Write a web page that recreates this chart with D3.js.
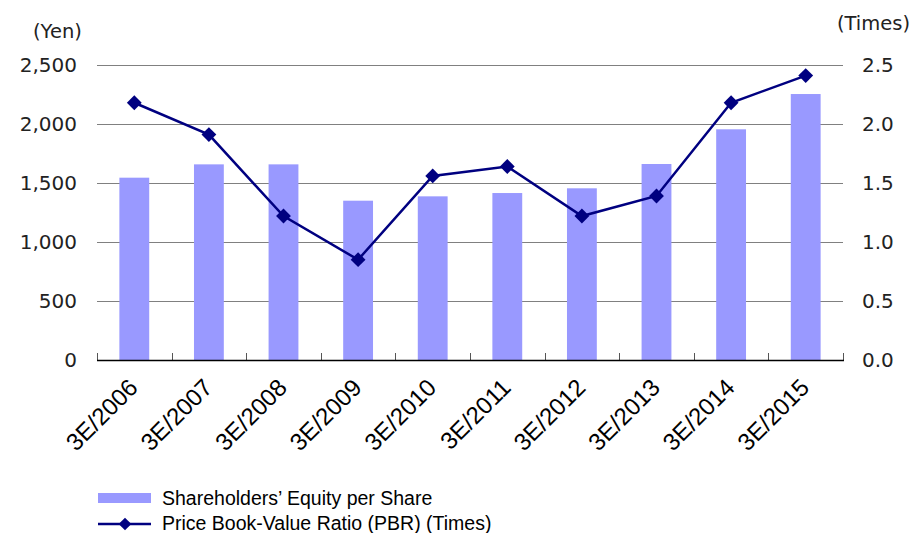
<!DOCTYPE html>
<html>
<head>
<meta charset="utf-8">
<script src="https://cdn.jsdelivr.net/npm/d3@7"></script>
<style>
  html, body { margin: 0; padding: 0; background: #fff; }
  svg { display: block; }
</style>
</head>
<body>
<svg id="chart" width="913" height="533"></svg>
<script>
const categories = ["3E/2006","3E/2007","3E/2008","3E/2009","3E/2010","3E/2011","3E/2012","3E/2013","3E/2014","3E/2015"];
const equityPerShare = [1545, 1658, 1658, 1350, 1387, 1415, 1455, 1661, 1955, 2254];
const pbr = [2.18, 1.91, 1.22, 0.85, 1.56, 1.64, 1.22, 1.39, 2.18, 2.41];
const leftTicks = [0, 500, 1000, 1500, 2000, 2500];
const rightTicks = [0, 0.5, 1.0, 1.5, 2.0, 2.5];
const seriesNames = ["Shareholders\u2019 Equity per Share", "Price Book-Value Ratio (PBR) (Times)"];
const leftUnit = "(Yen)";
const rightUnit = "(Times)";

const svg = d3.select("#chart");
const L = 97, R = 843, T = 65, B = 360;
const barColor = "#9999ff", lineColor = "#000080", gridColor = "#808080";
const tickFont = "'DejaVu Sans', sans-serif";
const textFont = "'Liberation Sans', Arial, sans-serif";

const x = d3.scaleBand().domain(categories).range([L, R]).paddingInner(0.6).paddingOuter(0.3);
const y = d3.scaleLinear().domain([0, 2500]).range([B, T]);
const y2 = d3.scaleLinear().domain([0, 2.5]).range([B, T]);

// gridlines
svg.append("g").selectAll("line").data(leftTicks.filter(d => d > 0)).join("line")
  .attr("x1", L).attr("x2", R)
  .attr("y1", d => Math.round(y(d)) + 0.5).attr("y2", d => Math.round(y(d)) + 0.5)
  .attr("stroke", gridColor).attr("stroke-width", 1);

// left tick labels
svg.append("g").selectAll("text").data(leftTicks).join("text")
  .attr("x", 77).attr("y", d => y(d)).attr("dy", "0.36em")
  .attr("text-anchor", "end")
  .style("font-family", tickFont).style("font-size", "20px").attr("fill", "#222")
  .text(d => d3.format(",")(d));

// right tick labels
svg.append("g").selectAll("text").data(rightTicks).join("text")
  .attr("x", 862).attr("y", d => y2(d)).attr("dy", "0.36em")
  .attr("text-anchor", "start")
  .style("font-family", tickFont).style("font-size", "20px").attr("fill", "#222")
  .text(d => d3.format(".1f")(d));

// unit labels
svg.append("text").attr("x", 33).attr("y", 31).attr("dy", "0.36em")
  .style("font-family", tickFont).style("font-size", "19.5px").attr("fill", "#222").text(leftUnit);
svg.append("text").attr("x", 910).attr("y", 23).attr("dy", "0.36em").attr("text-anchor", "end")
  .style("font-family", tickFont).style("font-size", "19.5px").attr("fill", "#222").text(rightUnit);

// bars
svg.append("g").selectAll("rect").data(categories).join("rect")
  .attr("x", d => x(d)).attr("width", x.bandwidth())
  .attr("y", (d, i) => y(equityPerShare[i]))
  .attr("height", (d, i) => B - y(equityPerShare[i]))
  .attr("fill", barColor);

// bottom axis
const step = x.step();
const bounds = d3.range(categories.length + 1).map(i => L + i * step);
svg.append("g").selectAll("line").data(bounds).join("line")
  .attr("x1", d => Math.round(d) + 0.5).attr("x2", d => Math.round(d) + 0.5)
  .attr("y1", B - 7).attr("y2", B)
  .attr("stroke", "#555").attr("stroke-width", 1);
svg.append("line").attr("x1", L).attr("x2", R + 1).attr("y1", B + 0.5).attr("y2", B + 0.5)
  .attr("stroke", "#000").attr("stroke-width", 1.5);

// x labels
svg.append("g").selectAll("text").data(categories).join("text")
  .attr("text-anchor", "end")
  .attr("transform", d => `translate(${x(d) + x.bandwidth() / 2 + 5},${389}) rotate(-45)`)
  .style("font-family", textFont).style("font-size", "24px").attr("fill", "#000")
  .text(d => d);

// line
const cx = (d) => x(d) + x.bandwidth() / 2;
svg.append("path").datum(categories)
  .attr("d", d3.line().x(d => cx(d)).y((d, i) => y2(pbr[i])))
  .attr("fill", "none").attr("stroke", lineColor).attr("stroke-width", 2.5);

svg.append("g").selectAll("path").data(categories).join("path")
  .attr("d", d3.symbol().type(d3.symbolSquare).size(110)())
  .attr("transform", (d, i) => `translate(${cx(d)},${y2(pbr[i])}) rotate(45)`)
  .attr("fill", lineColor);

// legend
const lg = svg.append("g");
lg.append("rect").attr("x", 98).attr("y", 493).attr("width", 53).attr("height", 10).attr("fill", barColor);
lg.append("text").attr("x", 162).attr("y", 498).attr("dy", "0.36em")
  .style("font-family", textFont).style("font-size", "19.5px").attr("fill", "#000").text(seriesNames[0]);
lg.append("line").attr("x1", 98).attr("x2", 151).attr("y1", 524).attr("y2", 524)
  .attr("stroke", lineColor).attr("stroke-width", 2.5);
lg.append("path").attr("transform", "translate(125,524) rotate(45)")
  .attr("d", d3.symbol().type(d3.symbolSquare).size(80)()).attr("fill", lineColor);
lg.append("text").attr("x", 162).attr("y", 523).attr("dy", "0.36em")
  .style("font-family", textFont).style("font-size", "19.5px").attr("fill", "#000").text(seriesNames[1]);
</script>
</body>
</html>
